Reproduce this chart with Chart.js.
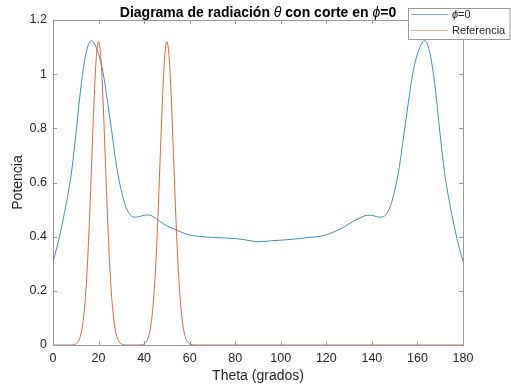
<!DOCTYPE html>
<html>
<head>
  <meta charset="UTF-8">
  <title>Diagrama de radiación</title>
  <script src="https://cdn.jsdelivr.net/npm/chart.js"></script>
  <style>
    body {
      margin: 0;
      background: white;
    }
    #wrap {
      width: 511px;
      height: 390px;
    }
  </style>
</head>
<body>

  <div id="wrap"><canvas id="patron" width="511" height="390"></canvas></div>

  <script>
    // corte phi=0 del diagrama, en grados y potencia
    const thetaBlue = [0, 2, 4, 6, 8, 10, 12, 14, 16, 17, 18, 20, 22, 24, 26, 28, 30, 32, 34, 36,
      38, 40, 42, 44, 46, 48, 50, 52, 54, 56, 58, 60, 64, 70, 76, 80, 84, 88, 90, 92,
      96, 100, 106, 110, 116, 120, 124, 128, 132, 136, 138, 140, 142, 144, 146, 148, 150, 152, 154, 156,
      158, 160, 162, 163, 164, 166, 168, 170, 172, 174, 176, 178, 180];
    const potBlue = [0.308, 0.37, 0.445, 0.53, 0.63, 0.775, 0.935, 1.055, 1.118, 1.123, 1.115, 1.075, 1.005, 0.895, 0.775, 0.655, 0.57, 0.51, 0.48, 0.472,
      0.474, 0.479, 0.48, 0.474, 0.462, 0.45, 0.44, 0.432, 0.425, 0.418, 0.411, 0.406, 0.401, 0.397, 0.395, 0.393, 0.389, 0.383, 0.381, 0.382,
      0.385, 0.387, 0.391, 0.395, 0.4, 0.407, 0.42, 0.437, 0.458, 0.474, 0.479, 0.479, 0.474, 0.472, 0.48, 0.51, 0.57, 0.655, 0.775, 0.895,
      1.005, 1.075, 1.115, 1.123, 1.118, 1.055, 0.935, 0.775, 0.63, 0.53, 0.445, 0.37, 0.308];

    // lobulos de referencia en 20 y 50 grados
    const thetaRef = [0, 8, 9, 10, 11, 12, 13, 14, 15, 16, 17, 18, 19, 20, 21, 22, 23, 24, 25, 26, 27, 28, 29, 30, 31, 32,
      38, 39, 40, 41, 42, 43, 44, 45, 46, 47, 48, 49, 50, 51, 52, 53, 54, 55, 56, 57, 58, 59, 60, 61, 62, 180];
    const potRef = [0, 0, 0.001, 0.004, 0.012, 0.032, 0.074, 0.152, 0.279, 0.46, 0.679, 0.897, 1.06, 1.12, 1.06, 0.897, 0.679, 0.46, 0.279, 0.152, 0.074, 0.032, 0.012, 0.004, 0.001, 0,
      0, 0.001, 0.004, 0.012, 0.032, 0.074, 0.152, 0.279, 0.46, 0.679, 0.897, 1.06, 1.12, 1.06, 0.897, 0.679, 0.46, 0.279, 0.152, 0.074, 0.032, 0.012, 0.004, 0.001, 0, 0];

    const xTicks = [0, 20, 40, 60, 80, 100, 120, 140, 160, 180];
    const yTicks = [0, 0.2, 0.4, 0.6, 0.8, 1, 1.2];

    const FONT = "'Liberation Sans', Arial, sans-serif";
    const AXIS_GRAY = '#9a9a9a';
    const BLUE = '#3a8dc4';
    const ORANGE = '#d96a3a';

    const toPoints = (xs, ys) => xs.map((x, i) => ({ x: x, y: ys[i] }));

    // caja de ejes con marcas hacia dentro en los cuatro lados
    const axesBox = {
      id: 'axesBox',
      beforeDatasetsDraw(chart) {
        const { ctx, chartArea: a, scales } = chart;
        ctx.save();
        ctx.strokeStyle = AXIS_GRAY;
        ctx.lineWidth = 1;
        ctx.strokeRect(Math.round(a.left) + 0.5, Math.round(a.top) + 0.5,
          Math.round(a.right - a.left), Math.round(a.bottom - a.top));
        const len = 4;
        ctx.beginPath();
        xTicks.forEach(v => {
          const px = Math.round(scales.x.getPixelForValue(v)) + 0.5;
          ctx.moveTo(px, a.bottom); ctx.lineTo(px, a.bottom - len);
          ctx.moveTo(px, a.top); ctx.lineTo(px, a.top + len);
        });
        yTicks.forEach(v => {
          const py = Math.round(scales.y.getPixelForValue(v)) + 0.5;
          ctx.moveTo(a.left, py); ctx.lineTo(a.left + len, py);
          ctx.moveTo(a.right, py); ctx.lineTo(a.right - len, py);
        });
        ctx.stroke();
        ctx.restore();
      }
    };

    // escribe trozos de texto seguidos con fuentes distintas
    function drawRuns(ctx, runs, x, y, align) {
      let total = 0;
      runs.forEach(r => { ctx.font = r.font; total += ctx.measureText(r.text).width; });
      let cx = align === 'center' ? x - total / 2 : x;
      runs.forEach(r => {
        ctx.font = r.font;
        ctx.fillText(r.text, cx, y);
        cx += ctx.measureText(r.text).width;
      });
    }

    // titulo con letras griegas en cursiva y leyenda arriba a la derecha
    const titleLegend = {
      id: 'titleLegend',
      afterDraw(chart) {
        const { ctx, chartArea: a } = chart;
        ctx.save();
        ctx.textBaseline = 'alphabetic';
        ctx.fillStyle = '#000';
        const bold = 'bold 14px ' + FONT;
        const ital = 'italic 14px ' + FONT;
        drawRuns(ctx, [
          { text: 'Diagrama de radiación ', font: bold },
          { text: 'θ', font: ital },
          { text: ' con corte en ', font: bold },
          { text: 'ϕ', font: ital },
          { text: '=0', font: bold }
        ], (a.left + a.right) / 2, 17, 'center');

        // leyenda
        ctx.fillStyle = '#fff';
        ctx.fillRect(408, 8, 103, 31);
        ctx.strokeStyle = AXIS_GRAY;
        ctx.lineWidth = 1;
        ctx.strokeRect(408.5, 8.5, 101.5, 31);

        ctx.lineWidth = 1;
        ctx.strokeStyle = '#6fb0da';
        ctx.beginPath(); ctx.moveTo(411, 14.5); ctx.lineTo(448, 14.5); ctx.stroke();
        ctx.strokeStyle = '#eab597';
        ctx.beginPath(); ctx.moveTo(411, 30.5); ctx.lineTo(448, 30.5); ctx.stroke();

        ctx.fillStyle = '#262626';
        ctx.textBaseline = 'middle';
        drawRuns(ctx, [
          { text: 'ϕ', font: 'italic 11px ' + FONT },
          { text: '=0', font: '11px ' + FONT }
        ], 452, 15, 'left');
        drawRuns(ctx, [{ text: 'Referencia', font: '11px ' + FONT }], 452, 31, 'left');
        ctx.restore();
      }
    };

    new Chart(document.getElementById('patron'), {
      type: 'line',
      data: {
        datasets: [
          {
            label: 'ϕ=0',
            data: toPoints(thetaBlue, potBlue),
            borderColor: BLUE,
            borderWidth: 1,
            pointRadius: 0,
            cubicInterpolationMode: 'monotone',
            order: 1
          },
          {
            label: 'Referencia',
            data: toPoints(thetaRef, potRef),
            borderColor: ORANGE,
            borderWidth: 1,
            pointRadius: 0,
            cubicInterpolationMode: 'monotone',
            order: 0
          }
        ]
      },
      options: {
        responsive: false,
        devicePixelRatio: 1,
        animation: false,
        layout: { padding: { left: 0, top: 20, right: 48, bottom: 0 } },
        plugins: {
          legend: { display: false },
          title: { display: false },
          tooltip: { enabled: false }
        },
        scales: {
          x: {
            type: 'linear',
            min: 0,
            max: 180,
            grid: { display: false, drawTicks: false },
            border: { display: false },
            ticks: {
              stepSize: 20,
              padding: 6,
              color: '#262626',
              font: { family: FONT, size: 12.5 }
            },
            title: {
              display: true,
              text: 'Theta (grados)',
              color: '#262626',
              font: { family: FONT, size: 14 },
              padding: { top: 0, bottom: 5 }
            },
            afterFit(scale) {
              scale.height = 45;
              scale.paddingLeft = 0;
              scale.paddingRight = 0;
            }
          },
          y: {
            min: 0,
            max: 1.2,
            grid: { display: false, drawTicks: false },
            border: { display: false },
            ticks: {
              stepSize: 0.2,
              padding: 6,
              color: '#262626',
              font: { family: FONT, size: 12.5 },
              callback: v => String(+v.toFixed(1))
            },
            title: {
              display: true,
              text: 'Potencia',
              color: '#262626',
              font: { family: FONT, size: 14 },
              padding: { top: 10, bottom: 0 }
            },
            afterFit(scale) {
              scale.width = 53;
              scale.paddingTop = 0;
              scale.paddingBottom = 0;
            }
          }
        }
      },
      plugins: [axesBox, titleLegend]
    });
  </script>

</body>
</html>
